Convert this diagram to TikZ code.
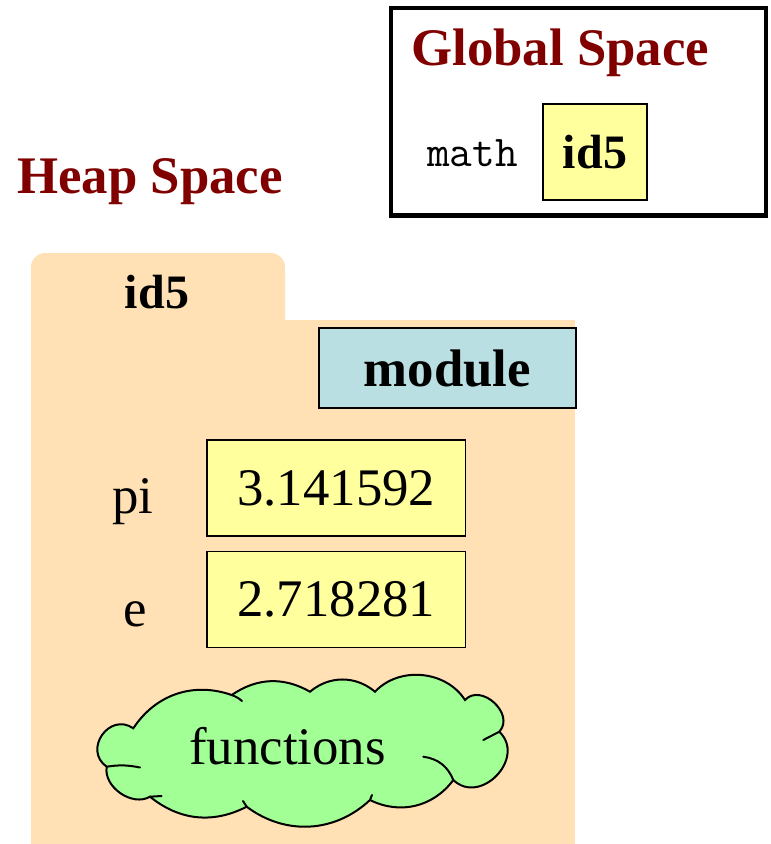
\documentclass[tikz,border=0pt]{standalone}
\usepackage{fontspec}
\setmainfont{Liberation Serif}
\definecolor{titlered}{HTML}{800000}
\definecolor{folder}{HTML}{FFE1B5}
\definecolor{valyellow}{HTML}{FFFF9E}
\definecolor{modblue}{HTML}{BADFE3}
\definecolor{cloudgreen}{HTML}{A2FF96}
\begin{document}
\begin{tikzpicture}[x=0.75pt,y=-0.75pt,
  bigtxt/.style={font=\fontsize{39.6}{44}\selectfont, inner sep=0pt},
  titletxt/.style={font=\fontsize{39.6}{44}\selectfont\bfseries, text=titlered, inner sep=0pt, anchor=base west},
  idtxt/.style={font=\fontsize{36}{40}\selectfont\bfseries, inner sep=0pt},
  valbox/.style={draw=black, line width=1.1pt, fill=valyellow, inner sep=0pt},
  creaseline/.style={line width=1.5pt, line cap=round}]
\useasboundingbox (0,0) rectangle (771,844);

% Global space frame
\draw[line width=3.2pt, fill=white] (391.3,8) rectangle (765.8,215.5);
\node[titletxt] (gtitle) at (411,65) {Global Space};
\node[font=\fontsize{33}{36}\selectfont\ttfamily, inner sep=0pt, anchor=base] (mathlbl) at (472.5,166.7) {math};
\node[valbox, idtxt, minimum width=78pt, minimum height=72pt] (gid) at (595,152) {id5};

% Heap space
\node[titletxt] (htitle) at (17,193) {Heap Space};

% folder
\fill[folder, rounded corners=10.5pt] (31,253) rectangle (285,345);
\fill[folder] (31,320) rectangle (575,844);
\node[idtxt, anchor=base] (hid) at (157,308) {id5};

\node[draw=black, line width=1.3pt, fill=modblue, minimum width=192.5pt, minimum height=60pt, inner sep=0pt,
  font=\fontsize{39.6}{44}\selectfont\bfseries] (mod) at (447.5,368) {module};

\node[valbox, bigtxt, minimum width=194pt, minimum height=72pt] (piv) at (336.3,488) {3.141592};
\node[valbox, bigtxt, minimum width=194pt, minimum height=72pt] (ev) at (336.3,599.5) {2.718281};
\node[bigtxt, anchor=base west] (pilbl) at (112,513) {pi};
\node[bigtxt, anchor=base west] (elbl) at (123,626.7) {e};

% cloud
\draw[line width=1.5pt, fill=cloudgreen]
  (133.3,728.3) to[bend left=38] (231.7,695)
  to[bend left=32] (310,691.7)
  to[bend left=40] (375,691.7)
  to[bend left=52] (465,700)
  to[bend left=90, looseness=1.3] (499.3,731.7)
  to[bend left=90, looseness=1.45] (453.3,780)
  to[bend left=40] (370,800)
  to[bend left=40] (246.7,806.7)
  to[bend left=33] (150,796.7)
  to[bend left=65] (106.7,766.7)
  to[bend left=90, looseness=1.6] (133.3,728.3) -- cycle;
% inner creases of the cloud
\draw[creaseline] (106.7,766.7) to[bend left=10] (140,767.5);
\draw[creaseline] (150,796.7) -- (161.7,796);
\draw[creaseline] (423.3,756.7) to[bend left=30] (453.3,780);
\draw[creaseline] (483.3,740) -- (499.3,731.7);
\draw[creaseline] (231.7,695) to[bend left=10] (242,701);
\draw[creaseline] (246.7,806.7) -- (243,801);
\draw[creaseline] (370,800) -- (372,795);
\node[bigtxt, anchor=base west] (funcs) at (189,764) {functions};
\end{tikzpicture}
\end{document}
